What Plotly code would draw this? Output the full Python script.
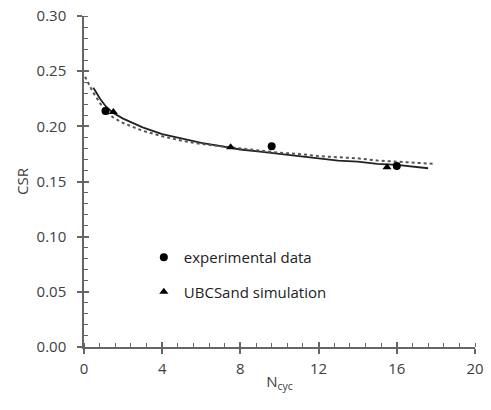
import plotly.graph_objects as go

# Experimental data (circles)
exp_n = [1.1, 9.6, 16.0]
exp_csr = [0.214, 0.182, 0.164]

# UBCSand simulation (triangles)
sim_n = [1.5, 7.5, 15.5]
sim_csr = [0.213, 0.181, 0.163]

# Solid trend curve
solid_n = [0.48, 0.82, 1.12, 1.5, 2, 3, 4, 5, 6, 7, 8, 9, 10, 11, 12, 13, 14, 15, 16, 17, 17.6]
solid_csr = [0.235, 0.225, 0.218, 0.212, 0.207, 0.199, 0.193, 0.189, 0.185, 0.182, 0.179,
             0.177, 0.175, 0.173, 0.171, 0.169, 0.168, 0.166, 0.165, 0.163, 0.162]

# Dotted trend curve
dot_n = [0.05, 0.17, 0.46, 0.82, 1.12, 1.5, 2, 3, 4, 5, 6, 7, 8, 9, 10, 11, 12, 13, 14, 15, 16, 17, 17.9]
dot_csr = [0.245, 0.241, 0.231, 0.221, 0.213, 0.208, 0.203, 0.196, 0.191, 0.187, 0.184, 0.182,
           0.180, 0.178, 0.176, 0.175, 0.173, 0.172, 0.171, 0.169, 0.168, 0.167, 0.166]

x_ticks = [0, 4, 8, 12, 16, 20]
y_ticks = [0.00, 0.05, 0.10, 0.15, 0.20, 0.25, 0.30]

FONT = "Open Sans"
AX = "#666666"
TXT = "#404040"
FS = 15

fig = go.Figure()
fig.add_trace(go.Scatter(x=solid_n, y=solid_csr, mode="lines", showlegend=False,
                         line=dict(color="#222222", width=1.8)))
fig.add_trace(go.Scatter(x=dot_n, y=dot_csr, mode="lines", showlegend=False,
                         line=dict(color="#555555", width=2, dash="dot")))
fig.add_trace(go.Scatter(x=exp_n, y=exp_csr, mode="markers", name="experimental data",
                         legendgroup="a",
                         marker=dict(symbol="circle", size=8, color="black")))
fig.add_trace(go.Scatter(x=sim_n, y=sim_csr, mode="markers", name="UBCSand simulation",
                         legendgroup="b",
                         marker=dict(symbol="triangle-up", size=8, color="black")))

axis_common = dict(showgrid=False, zeroline=False, showline=True, linecolor=AX, linewidth=1.5,
                   ticks="outside", ticklen=5, tickwidth=1.5, tickcolor=AX, automargin=False,
                   tickfont=dict(family=FONT, size=FS, color=TXT))

fig.update_layout(
    width=491, height=410,
    margin=dict(l=84, r=16, t=16, b=63),
    paper_bgcolor="white", plot_bgcolor="white",
    font=dict(family=FONT, size=FS, color=TXT),
    xaxis=dict(range=[0, 20], tickvals=x_ticks, ticktext=[str(v) for v in x_ticks],
               title=dict(text="N<sub>cyc</sub>", font=dict(family=FONT, size=FS, color=TXT), standoff=0),
               minor=dict(dtick=0.8, tick0=0, ticks="inside", ticklen=4, tickwidth=1.2, tickcolor=AX),
               ticklabelstandoff=2,
               **axis_common),
    yaxis=dict(range=[0, 0.30], tickvals=y_ticks, ticktext=[f"{v:.2f}" for v in y_ticks],
               title=dict(text="CSR", font=dict(family=FONT, size=FS, color=TXT), standoff=4),
               minor=dict(dtick=0.01, tick0=0, ticks="inside", ticklen=4, tickwidth=1.2, tickcolor=AX),
               ticklabelstandoff=8,
               **axis_common),
    xaxis2=dict(overlaying="x", matches="x", range=[0, 20], tickvals=x_ticks, showticklabels=False,
                showgrid=False, zeroline=False, showline=False, ticks="inside", ticklen=5,
                tickwidth=1.5, tickcolor=AX, anchor="y", automargin=False),
    yaxis2=dict(overlaying="y", matches="y", range=[0, 0.30], tickvals=y_ticks, showticklabels=False,
                showgrid=False, zeroline=False, showline=False, ticks="inside", ticklen=5,
                tickwidth=1.5, tickcolor=AX, anchor="x", automargin=False),
    legend=dict(x=0.153, y=0.32, xanchor="left", yanchor="top", bgcolor="rgba(0,0,0,0)",
                font=dict(family=FONT, size=FS, color="#222222"), traceorder="grouped",
                tracegroupgap=12, itemwidth=30),
)
# dummy trace to activate the overlay axes
fig.add_trace(go.Scatter(x=[None], y=[None], xaxis="x2", yaxis="y2", showlegend=False, hoverinfo="skip"))

fig.write_html("out.html", config={"displayModeBar": False},
               post_script="document.body.style.margin='0';")
